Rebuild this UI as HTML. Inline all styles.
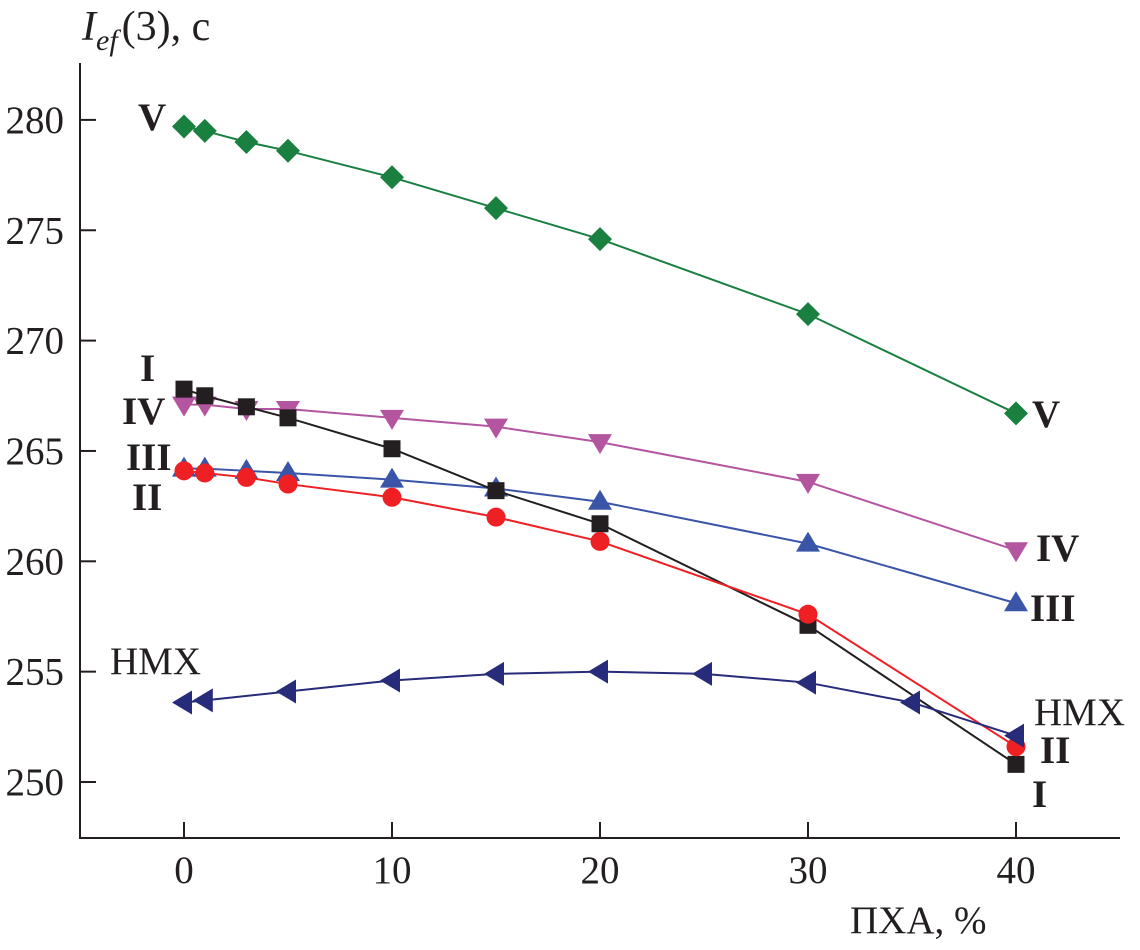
<!DOCTYPE html>
<html><head><meta charset="utf-8"><style>
html,body{margin:0;padding:0;background:#fff}
svg{display:block}
text{font-family:"Liberation Serif",serif;fill:#231f20}
</style></head><body>
<svg id="chart" width="1140" height="950">
<g id="axes"></g>
<g id="series"></g>
<text x="82" y="40" font-size="42" font-style="italic">I<tspan font-size="30" dy="10">ef</tspan><tspan font-style="normal" dy="-10" dx="4">(3), c</tspan></text>
<text x="850" y="933" font-size="39">ПХА, %</text>
</svg>
<script>
const xTicks=[0,10,20,30,40];
const yTicks=[250,255,260,265,270,275,280];
const xV=[0,1,3,5,10,15,20,30,40];
const xHMX=[0,1,5,10,15,20,25,30,35,40];
const sV=[279.7,279.5,279.0,278.6,277.4,276.0,274.6,271.2,266.7];
const sI=[267.8,267.5,267.0,266.5,265.1,263.2,261.7,257.1,250.8];
const sIV=[267.1,267.1,266.9,266.9,266.5,266.1,265.4,263.6,260.5];
const sIII=[264.2,264.2,264.1,264.0,263.7,263.3,262.7,260.8,258.1];
const sII=[264.1,264.0,263.8,263.5,262.9,262.0,260.9,257.6,251.6];
const sHMX=[253.6,253.7,254.1,254.6,254.9,255.0,254.9,254.5,253.6,252.1];
const NS="http://www.w3.org/2000/svg";
function X(v){return 184+v*20.8;}
function Y(v){return 782-(v-250)*22.07;}
function mk(t,a,p){const e=document.createElementNS(NS,t);for(const k in a)e.setAttribute(k,a[k]);p.appendChild(e);return e;}
const ax=document.getElementById('axes');
let l=mk('line',{x1:80,y1:63,x2:80,y2:838,stroke:'#231f20','stroke-width':2},ax);


l=mk('line',{x1:79,y1:838,x2:1120,y2:838,stroke:'#231f20','stroke-width':2},ax);


xTicks.forEach(t=>{
 const tk=mk('line',{x1:X(t),y1:838,x2:X(t),y2:822,stroke:'#231f20','stroke-width':2},ax);
 
 
 const tx=mk('text',{x:X(t),y:883,'font-size':39,'text-anchor':'middle'},ax);
 tx.textContent=t;
 
 
});
yTicks.forEach(t=>{
 const tk=mk('line',{x1:80,y1:Y(t),x2:96,y2:Y(t),stroke:'#231f20','stroke-width':2},ax);
 
 
 const tx=mk('text',{x:64,y:Y(t)+13,'font-size':39,'text-anchor':'end'},ax);
 tx.textContent=t;
 
 
});
const sg=document.getElementById('series');
function marker(shape,x,y,c,g){
 let e;
 if(shape==='sq')e=mk('rect',{x:x-8.5,y:y-8.5,width:17,height:17,fill:c},g);
 else if(shape==='ci')e=mk('circle',{cx:x,cy:y,r:9.5,fill:c},g);
 else if(shape==='di')e=mk('polygon',{points:`${x},${y-12} ${x+12},${y} ${x},${y+12} ${x-12},${y}`,fill:c},g);
 else if(shape==='up')e=mk('polygon',{points:`${x},${y-12} ${x+12},${y+8} ${x-12},${y+8}`,fill:c},g);
 else if(shape==='dn')e=mk('polygon',{points:`${x},${y+12} ${x+12},${y-8} ${x-12},${y-8}`,fill:c},g);
 else e=mk('polygon',{points:`${x-12},${y} ${x+8},${y-12} ${x+8},${y+12}`,fill:c},g);
 
 
}
function series(name,xs,ys,c,shape){
 const g=mk('g',{},sg);
 
 
 const p=mk('polyline',{points:xs.map((x,i)=>X(x)+','+Y(ys[i])).join(' '),fill:'none',stroke:c,'stroke-width':2},g);
 
 
 xs.forEach((x,i)=>marker(shape,X(x),Y(ys[i]),c,g));
}
series('v',xV,sV,'#1a8040','di');
series('iv',xV,sIV,'#b455a0','dn');
series('iii',xV,sIII,'#3a55a8','up');
series('i',xV,sI,'#231f20','sq');
series('ii',xV,sII,'#ee2024','ci');
series('hmx',xHMX,sHMX,'#262b7a','lt');
const labels=[['V',138,130,true],['V',1032,427,true],['I',140,381,true],['IV',122,424,true],['III',126,470,true],['II',132,510,true],['IV',1036,561,true],['III',1030,621,true],['HMX',110,674,false],['HMX',1034,725,false],['II',1040,763,true],['I',1032,807,true]];
labels.forEach(a=>{
 const t=mk('text',{x:a[1],y:a[2],'font-size':39,'font-weight':a[3]?'bold':'normal'},sg);
 t.textContent=a[0];
 
 
});
</script>
</body></html>
